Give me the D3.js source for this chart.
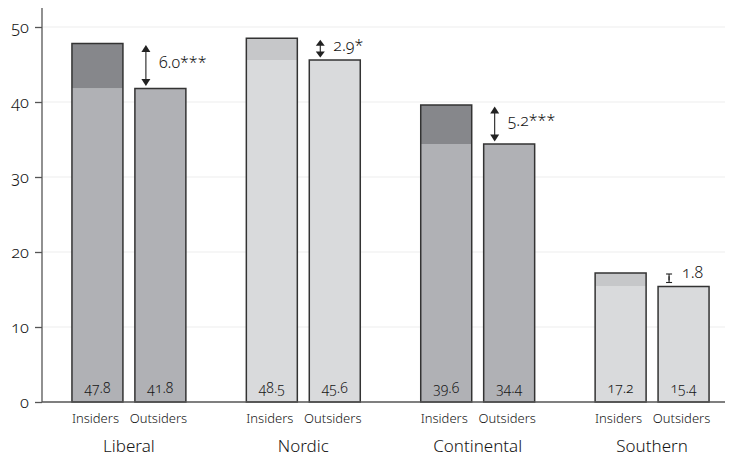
<!DOCTYPE html>
<html>
<head>
<meta charset="utf-8">
<script src="https://cdn.jsdelivr.net/npm/d3@7"></script>
<style>
  html, body { margin: 0; padding: 0; background: #fff; }
  svg text { font-family: "Noto Sans", "Open Sans", sans-serif; font-weight: 300; font-variant-numeric: oldstyle-nums; fill: #151515; }
</style>
</head>
<body>
<svg id="chart" width="731" height="458"></svg>
<script>
// Welfare regimes and the two labour-market groups
const regimes = ["Liberal", "Nordic", "Continental", "Southern"];
const groups = ["Insiders", "Outsiders"];
const insiders = [47.8, 48.5, 39.6, 17.2];
const outsiders = [41.8, 45.6, 34.4, 15.4];
const gapLabels = ["6.0***", "2.9*", "5.2***", "1.8"];
const yTicks = [0, 10, 20, 30, 40, 50];

// Shading per regime: base fill and the darker band for the gap
const baseFill = ["#b0b1b5", "#d9dadc", "#b0b1b5", "#d9dadc"];
const gapFill = ["#86878b", "#c6c7c9", "#86878b", "#c6c7c9"];

const svg = d3.select("#chart");

const y = d3.scaleLinear().domain([0, 50]).range([402, 27]);
const x0 = d3.scaleBand().domain(regimes).range([42.3, 738.7]).paddingInner(0.3467).paddingOuter(0.17);
const x1 = d3.scaleBand().domain(groups).range([0, x0.bandwidth()]).paddingInner(0.19);

// Grid lines
svg.append("g").selectAll("line").data(yTicks.filter(d => d > 0)).join("line")
  .attr("x1", 43).attr("x2", 725)
  .attr("y1", d => y(d)).attr("y2", d => y(d))
  .attr("stroke", "#eeeeee").attr("stroke-width", 1.2);

// Y axis
const yAxis = d3.axisLeft(y).tickValues(yTicks).tickSize(7).tickPadding(6).tickFormat(d3.format("d"));
const gy = svg.append("g").attr("transform", "translate(42,0)").call(yAxis);
gy.select(".domain").remove();
gy.selectAll(".tick line").attr("stroke", "#555").attr("stroke-width", 1.3);
gy.selectAll(".tick text").attr("font-size", 16.5).attr("fill", "#151515");
svg.append("line").attr("x1", 42).attr("x2", 42).attr("y1", 8).attr("y2", y(0))
  .attr("stroke", "#555").attr("stroke-width", 1.3);

const data = regimes.map((r, i) => ({ r, i, ins: insiders[i], out: outsiders[i] }));

const g = svg.append("g").selectAll("g").data(data).join("g")
  .attr("transform", d => `translate(${x0(d.r)},0)`);

// Insiders bar: base up to outsiders' level, darker band for the gap
g.append("rect")
  .attr("x", x1("Insiders")).attr("width", x1.bandwidth())
  .attr("y", d => y(d.out)).attr("height", d => y(0) - y(d.out))
  .attr("fill", d => baseFill[d.i]);
g.append("rect")
  .attr("x", x1("Insiders")).attr("width", x1.bandwidth())
  .attr("y", d => y(d.ins)).attr("height", d => y(d.out) - y(d.ins))
  .attr("fill", d => gapFill[d.i]);
g.append("rect")
  .attr("x", x1("Insiders")).attr("width", x1.bandwidth())
  .attr("y", d => y(d.ins)).attr("height", d => y(0) - y(d.ins))
  .attr("fill", "none").attr("stroke", "#333").attr("stroke-width", 1.5);

// Outsiders bar
g.append("rect")
  .attr("x", x1("Outsiders")).attr("width", x1.bandwidth())
  .attr("y", d => y(d.out)).attr("height", d => y(0) - y(d.out))
  .attr("fill", d => baseFill[d.i]).attr("stroke", "#333").attr("stroke-width", 1.5);

// Baseline
svg.append("line").attr("x1", 42).attr("x2", 725).attr("y1", y(0)).attr("y2", y(0))
  .attr("stroke", "#555").attr("stroke-width", 1.5);

// Value labels inside the bars
g.selectAll(".val").data(d => [[d.ins, "Insiders"], [d.out, "Outsiders"]]).join("text")
  .attr("class", "val")
  .attr("x", v => x1(v[1]) + x1.bandwidth() / 2).attr("y", y(0) - 9)
  .attr("text-anchor", "middle").attr("font-size", 14)
  .text(v => v[0].toFixed(1));

// Group labels
g.selectAll(".grp").data(groups).join("text")
  .attr("class", "grp")
  .attr("x", k => x1(k) + x1.bandwidth() / 2 - 2).attr("y", 423)
  .attr("text-anchor", "middle").attr("font-size", 13)
  .text(k => k);

// Regime labels
g.append("text")
  .attr("x", x0.bandwidth() / 2).attr("y", 452)
  .attr("text-anchor", "middle").attr("font-size", 17)
  .text(d => d.r);

// Gap arrows
const ax = x1("Outsiders") + 11;
g.each(function (d) {
  const sel = d3.select(this);
  const raw = y(d.out) - y(d.ins);
  const small = raw < 20;
  const top = y(d.ins) + (small ? 1 : 1.5), bot = y(d.out) - (small ? 4 : 2.5);
  const h = bot - top;
  const head = Math.min(7, h / 3);
  const hw = Math.min(4.5, h / 3);
  sel.append("line").attr("x1", ax).attr("x2", ax).attr("y1", top + head * 0.8).attr("y2", bot - head * 0.8)
    .attr("stroke", "#222").attr("stroke-width", 1.1);
  if (h > 12) {
    sel.append("path").attr("d", `M${ax},${top}L${ax - hw},${top + head}L${ax + hw},${top + head}Z`).attr("fill", "#222");
    sel.append("path").attr("d", `M${ax},${bot}L${ax - hw},${bot - head}L${ax + hw},${bot - head}Z`).attr("fill", "#222");
  } else {
    sel.append("line").attr("x1", ax).attr("x2", ax).attr("y1", top).attr("y2", bot).attr("stroke", "#222").attr("stroke-width", 1.1);
    sel.append("line").attr("x1", ax - 3).attr("x2", ax + 3).attr("y1", top).attr("y2", top).attr("stroke", "#222").attr("stroke-width", 1.1);
    sel.append("line").attr("x1", ax - 3).attr("x2", ax + 3).attr("y1", bot).attr("y2", bot).attr("stroke", "#222").attr("stroke-width", 1.1);
  }
  sel.append("text").attr("x", ax + 13).attr("y", (top + bot) / 2 + (small ? 0 : 2))
    .attr("font-size", 16).text(gapLabels[d.i]);
});
</script>
</body>
</html>
